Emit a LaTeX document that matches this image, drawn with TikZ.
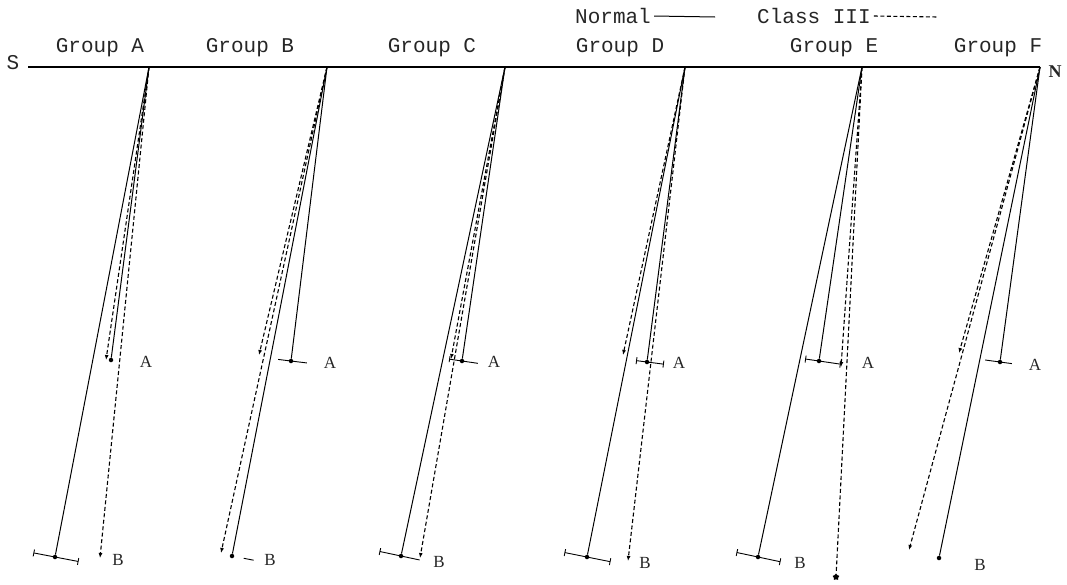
\documentclass[tikz,border=0pt]{standalone}
\usepackage{fontspec}
\setmainfont{Liberation Serif}
\setmonofont{Liberation Mono}
\usetikzlibrary{calc}
\usetikzlibrary{arrows.meta}
\usetikzlibrary{shapes.geometric}

\begin{document}
\begin{tikzpicture}[x=1pt, y=-1pt,
every node/.style = {inner sep=0pt, text=black!85},
grouplabel/.style = {font=\fontsize{21}{24}\selectfont\ttfamily},
ptlabel/.style = {font=\fontsize{17}{20}\selectfont},
normline/.style = {line width=1pt, draw},
classline/.style = {line width=1.1pt, dash pattern=on 4pt off 2.5pt},
classend/.style = {classline, -{Latex[length=5pt,width=4pt]}},
endpt/.style = {shape=circle, fill=black, minimum size=4.5pt},
starpt/.style = {shape=star, star points=5, fill=black, minimum size=7pt},
sdbar/.style = {line width=0.9pt, {Bar[width=7pt]}-{Bar[width=7pt]}}
]
\useasboundingbox (0,0) rectangle (1067,584);

% S-N line
\foreach \g/\x in {A/149,B/327,C/505,D/685,E/862,F/1040}
  \coordinate (o\g) at (\x,67);
\coordinate (sstart) at (28,67);
\draw[normline, line width=1.3pt] (sstart) -- (oF);
\node[grouplabel] (S) at (13,63) {S};
\node[ptlabel, font=\fontsize{18}{20}\selectfont\bfseries] (N) at (1055,72) {N};

% legend
\node[grouplabel, anchor=west] (normtxt) at (575,16) {Normal};
\coordinate (normkey) at (715,17);
\draw[normline] ([xshift=3pt]normtxt.east) -- (normkey);
\node[grouplabel, anchor=west] (clstxt) at (757,16) {Class III};
\coordinate (clskey) at (938,17);
\draw[classline] ([xshift=3pt]clstxt.east) -- (clskey);

% group titles
\node[grouplabel] (gA) at (100,48) {Group A};
\node[grouplabel] (gB) at (250,48) {Group B};
\node[grouplabel] (gC) at (432,48) {Group C};
\node[grouplabel] (gD) at (620,48) {Group D};
\node[grouplabel] (gE) at (834,48) {Group E};
\node[grouplabel] (gF) at (998,48) {Group F};

% group A
\node[endpt] (nAa) at (111,360) {};
\node[endpt] (nAb) at (55,557) {};
\coordinate (cAa) at (106,360);
\coordinate (cAb) at (100,558);
\draw[normline] (oA) -- (nAa);
\draw[normline] (oA) -- (nAb);
\draw[classend] (oA) -- (cAa);
\draw[classend] (oA) -- (cAb);
\draw[sdbar] ($(nAb)!22pt!90:(oA)$) -- ($(nAb)!24pt!-90:(oA)$);
\node[ptlabel] (lAa) at (146,362) {A};
\node[ptlabel] (lAb) at (118,560) {B};

% group B
\node[endpt] (nBa) at (291,361) {};
\node[endpt] (nBb) at (232,556) {};
\coordinate (cBa) at (259,355);
\coordinate (cBb) at (221,553);
\draw[normline] (oB) -- (nBa);
\draw[normline] (oB) -- (nBb);
\draw[classend] (oB) -- (cBa);
\draw[classend] (oB) -- (cBb);
\draw[sdbar, -] ($(nBa)!13pt!90:(oB)$) -- ($(nBa)!16pt!-90:(oB)$);
\draw[sdbar, -] ($(nBb)!12pt!-90:(oB)$) -- ($(nBb)!22pt!-90:(oB)$);
\node[ptlabel] (lBa) at (330,363) {A};
\node[ptlabel] (lBb) at (270,560) {B};

% group C
\node[endpt] (nCa) at (462,361) {};
\node[endpt] (nCb) at (401,556) {};
\coordinate (cCa) at (451,359);
\coordinate (cCb) at (420,558);
\draw[normline] (oC) -- (nCa);
\draw[normline] (oC) -- (nCb);
\draw[classend] (oC) -- (cCa);
\draw[classend] (oC) -- (cCb);
\draw[sdbar, {Bar[width=6pt]}-] ($(nCa)!13pt!90:(oC)$) -- ($(nCa)!16pt!-90:(oC)$);
\draw[sdbar, {Bar[width=7pt]}-] ($(nCb)!22pt!90:(oC)$) -- ($(nCb)!19pt!-90:(oC)$);
\node[ptlabel] (lCa) at (494,362) {A};
\node[ptlabel] (lCb) at (439,562) {B};

% group D
\node[endpt] (nDa) at (647,362) {};
\node[endpt] (nDb) at (587,557) {};
\coordinate (cDa) at (623,355);
\coordinate (cDb) at (628,561);
\draw[normline] (oD) -- (nDa);
\draw[normline] (oD) -- (nDb);
\draw[classend] (oD) -- (cDa);
\draw[classend] (oD) -- (cDb);
\draw[sdbar] ($(nDa)!11pt!90:(oD)$) -- ($(nDa)!17pt!-90:(oD)$);
\draw[sdbar] ($(nDb)!23pt!90:(oD)$) -- ($(nDb)!24pt!-90:(oD)$);
\node[ptlabel] (lDa) at (679,363) {A};
\node[ptlabel] (lDb) at (645,563) {B};

% group E
\node[endpt] (nEa) at (819,361) {};
\node[endpt] (nEb) at (758,557) {};
\coordinate (cEa) at (841,367);
\node[starpt] (cEb) at (836,577) {};
\draw[normline] (oE) -- (nEa);
\draw[normline] (oE) -- (nEb);
\draw[classend] (oE) -- (cEa);
\draw[classline] (oE) -- (cEb);
\draw[sdbar] ($(nEa)!14pt!90:(oE)$) -- ($(nEa)!22pt!-90:(oE)$);
\draw[sdbar] ($(nEb)!22pt!90:(oE)$) -- ($(nEb)!23pt!-90:(oE)$);
\node[ptlabel] (lEa) at (868,363) {A};
\node[ptlabel] (lEb) at (800,563) {B};

% group F
\node[endpt] (nFa) at (1000,362) {};
\node[endpt] (nFb) at (939,558) {};
\coordinate (cFa) at (959,353);
\coordinate (cFb) at (909,550);
\draw[normline] (oF) -- (nFa);
\draw[normline] (oF) -- (nFb);
\draw[classend] (oF) -- (cFa);
\draw[classend] (oF) -- (cFb);
\draw[sdbar, -] ($(nFa)!15pt!90:(oF)$) -- ($(nFa)!12pt!-90:(oF)$);
\node[ptlabel] (lFa) at (1035,365) {A};
\node[ptlabel] (lFb) at (980,565) {B};

\end{tikzpicture}
\end{document}
